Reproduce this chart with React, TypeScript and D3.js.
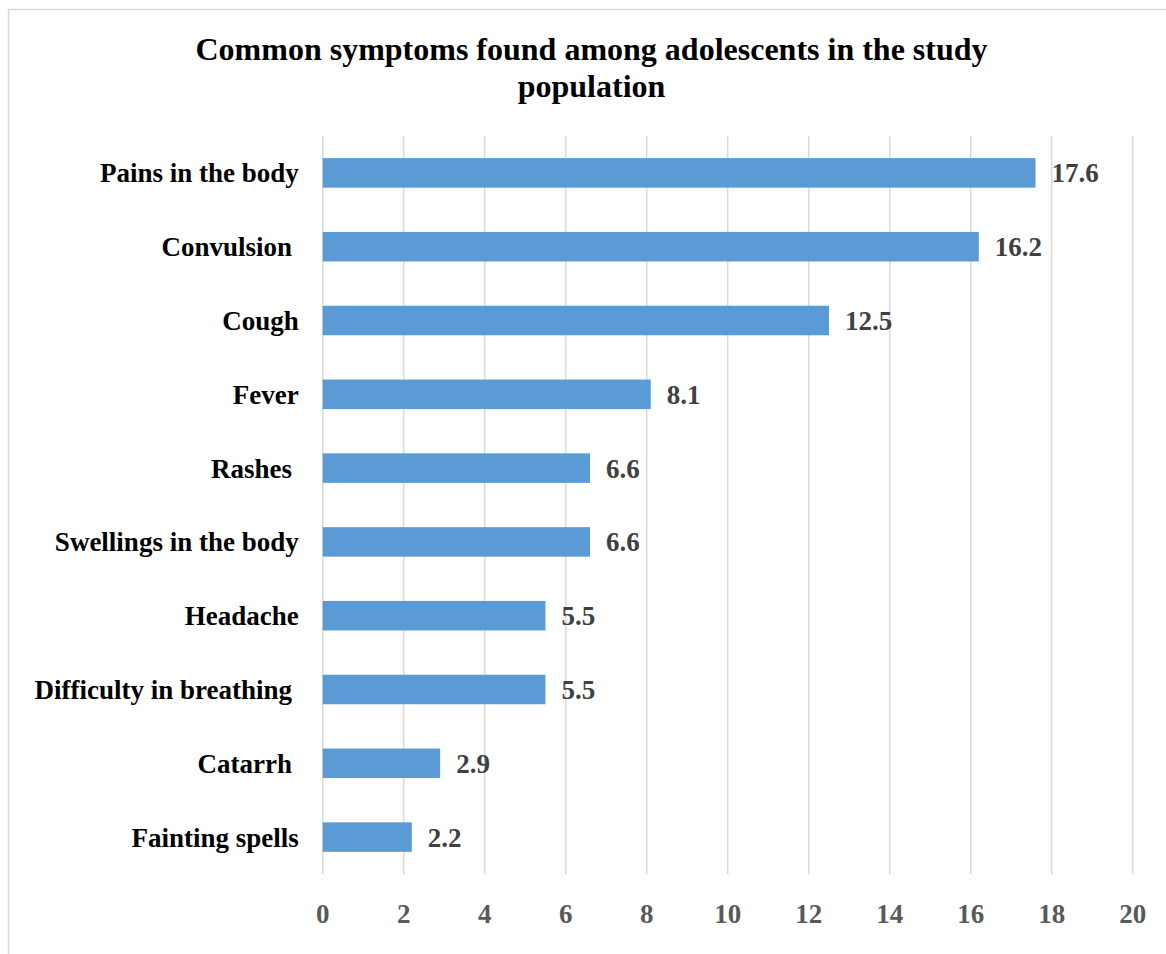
import React, { useRef, useEffect } from 'react';
import * as d3 from 'd3';

const categories = [
  'Pains in the body',
  'Convulsion ',
  'Cough',
  'Fever',
  'Rashes ',
  'Swellings in the body',
  'Headache',
  'Difficulty in breathing ',
  'Catarrh ',
  'Fainting spells',
];
const values = [17.6, 16.2, 12.5, 8.1, 6.6, 6.6, 5.5, 5.5, 2.9, 2.2];
const xTicks = [0, 2, 4, 6, 8, 10, 12, 14, 16, 18, 20];
const titleLines = ['Common symptoms found among adolescents in the study', 'population'];

const width = 1166;
const height = 954;
const font = '"Liberation Serif", "Times New Roman", serif';

export default function App() {
  const svgRef = useRef<SVGSVGElement>(null);

  useEffect(() => {
    if (!svgRef.current) return;
    const svg = d3.select(svgRef.current);
    svg.selectAll('*').remove();

    const margin = { top: 136, left: 322.7, right: width - 1132.7, bottom: height - 874 };
    const innerW = width - margin.left - margin.right;
    const innerH = height - margin.top - margin.bottom;

    // outer frame
    svg.append('rect')
      .attr('x', 8.5)
      .attr('y', 9.5)
      .attr('width', width + 20)
      .attr('height', height + 20)
      .attr('fill', '#fff')
      .attr('stroke', '#d9d9d9')
      .attr('stroke-width', 1.5);

    // title
    svg.append('text')
      .attr('x', 591.5)
      .attr('y', 60)
      .attr('text-anchor', 'middle')
      .attr('font-family', font)
      .attr('font-weight', 'bold')
      .attr('font-size', 32)
      .attr('fill', '#000')
      .selectAll('tspan')
      .data(titleLines)
      .enter().append('tspan')
      .attr('x', 591.5)
      .attr('dy', (d, i) => (i === 0 ? 0 : 37))
      .text(d => d);

    const x = d3.scaleLinear().domain([0, 20]).range([0, innerW]);
    const y = d3.scaleBand<string>()
      .domain(categories)
      .range([0, innerH])
      .paddingInner(0.6)
      .paddingOuter(0.3);

    const g = svg.append('g')
      .attr('transform', `translate(${margin.left},${margin.top})`);

    // gridlines
    g.selectAll('.grid')
      .data(xTicks)
      .enter().append('line')
      .attr('class', 'grid')
      .attr('x1', d => x(d))
      .attr('x2', d => x(d))
      .attr('y1', 0)
      .attr('y2', innerH)
      .attr('stroke', '#d9d9d9')
      .attr('stroke-width', 1.5);

    // bars
    g.selectAll('.bar')
      .data(values)
      .enter().append('rect')
      .attr('class', 'bar')
      .attr('x', x(0))
      .attr('y', (d, i) => y(categories[i])!)
      .attr('width', d => x(d) - x(0))
      .attr('height', y.bandwidth())
      .attr('fill', '#5b9bd5');

    // value labels
    g.selectAll('.val')
      .data(values)
      .enter().append('text')
      .attr('class', 'val')
      .attr('x', d => x(d) + 16)
      .attr('y', (d, i) => y(categories[i])! + y.bandwidth() / 2)
      .attr('dy', '0.35em')
      .attr('font-family', font)
      .attr('font-weight', 'bold')
      .attr('font-size', 27)
      .attr('fill', '#404040')
      .text(d => d.toFixed(1));

    // category labels
    g.selectAll('.cat')
      .data(categories)
      .enter().append('text')
      .attr('class', 'cat')
      .attr('x', -24)
      .attr('y', d => y(d)! + y.bandwidth() / 2)
      .attr('dy', '0.35em')
      .attr('text-anchor', 'end')
      .attr('font-family', font)
      .attr('font-weight', 'bold')
      .attr('font-size', 27)
      .attr('fill', '#000')
      .style('white-space', 'pre')
      .text(d => d);

    // x tick labels
    g.selectAll('.tick-label')
      .data(xTicks)
      .enter().append('text')
      .attr('class', 'tick-label')
      .attr('x', d => x(d))
      .attr('y', innerH + 49)
      .attr('text-anchor', 'middle')
      .attr('font-family', font)
      .attr('font-weight', 'bold')
      .attr('font-size', 27)
      .attr('fill', '#595959')
      .text(d => String(d));
  }, []);

  return (
    <svg
      ref={svgRef}
      width={width}
      height={height}
      style={{ position: 'absolute', left: 0, top: 0, background: '#fff' }}
    />
  );
}
